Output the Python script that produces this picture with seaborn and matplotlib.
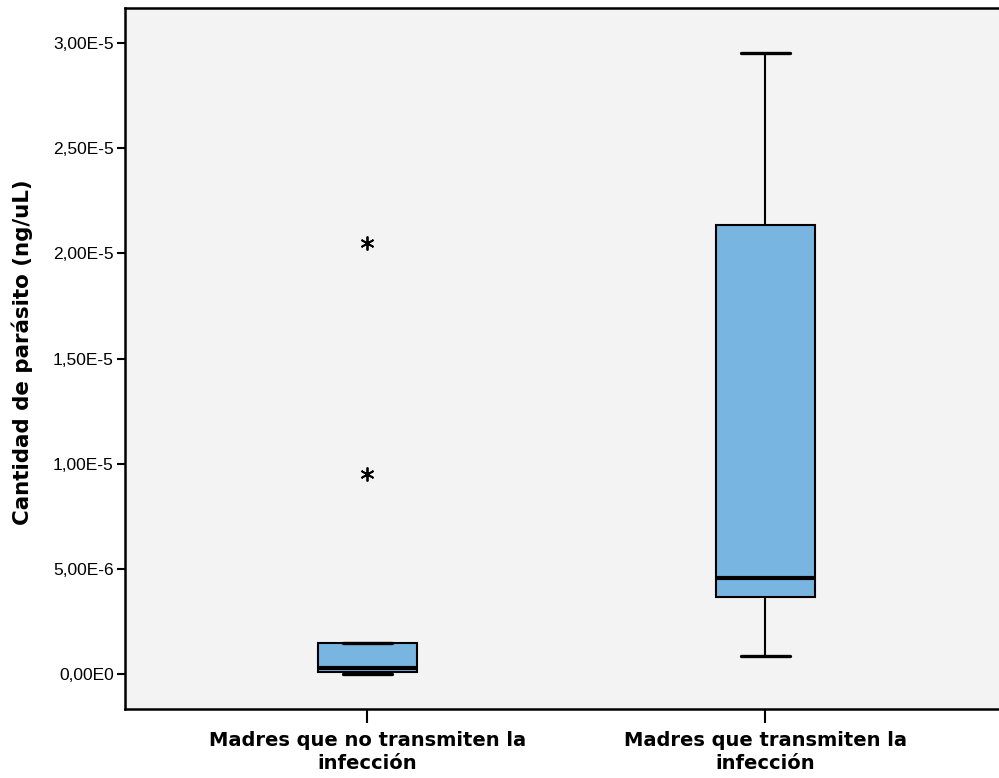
import numpy as np
import pandas as pd
import matplotlib
matplotlib.use("Agg")
import matplotlib.pyplot as plt
import seaborn as sns

# Parasite load per mother (ng/uL), grouped by transmission status
categories = ["Madres que no transmiten la\ninfección",
              "Madres que transmiten la\ninfección"]
no_transmiten = [0.0, 0.10e-6, 0.10e-6, 0.30e-6, 0.30e-6,
                 1.47e-6, 1.47e-6, 9.50e-6, 20.50e-6]
transmiten = [0.856e-6, 3.66e-6, 4.56e-6, 21.35e-6, 29.53e-6]
y_ticks = [0.0, 5e-6, 1e-5, 1.5e-5, 2e-5, 2.5e-5, 3e-5]
y_tick_labels = ["0,00E0", "5,00E-6", "1,00E-5", "1,50E-5",
                 "2,00E-5", "2,50E-5", "3,00E-5"]

df = pd.DataFrame({
    "grupo": [categories[0]] * len(no_transmiten) + [categories[1]] * len(transmiten),
    "cantidad": no_transmiten + transmiten,
})

sns.set_theme(style="white")
plt.rcParams["font.family"] = ["DejaVu Sans"]
plt.rcParams["text.color"] = "black"
plt.rcParams["axes.labelcolor"] = "black"
plt.rcParams["xtick.color"] = "black"
plt.rcParams["ytick.color"] = "black"

fig = plt.figure(figsize=(9.99, 7.78), dpi=100)
ax = fig.add_axes([0.125, 0.0887, 0.875, 0.901])
ax.set_facecolor("#f3f3f3")

sns.boxplot(
    data=df, x="grupo", y="cantidad", order=categories, ax=ax,
    width=0.25, whis=1.5, color="#79b5e1", saturation=1,
    linecolor="black", linewidth=1.5,
    boxprops=dict(edgecolor="black", linewidth=1.5),
    medianprops=dict(color="black", linewidth=3),
    whiskerprops=dict(color="black", linewidth=1.5),
    capprops=dict(color="black", linewidth=2.4),
    flierprops=dict(marker=(6, 2, 0), markersize=10, markeredgewidth=1.3,
                    markeredgecolor="black", markerfacecolor="black"),
)

ax.set_xlim(-0.6096, 1.587)
ax.set_ylim(-1.66e-6, 3.166e-5)
ax.set_yticks(y_ticks)
ax.set_yticklabels(y_tick_labels, fontfamily="Liberation Sans", fontsize=12.5, color="black")
ax.set_xticks([0, 1])
ax.set_xticklabels(categories, fontsize=14, fontweight="bold", linespacing=1.25, color="black")

ax.set_xlabel("")
ax.set_ylabel("Cantidad de parásito (ng/uL)", fontsize=15.4, fontweight="bold", color="black")
ax.yaxis.set_label_coords(-0.105, 0.5086)

for side in ["left", "bottom", "top"]:
    ax.spines[side].set_visible(True)
    ax.spines[side].set_color("black")
    ax.spines[side].set_linewidth(1.8)
ax.spines["right"].set_visible(False)

ax.tick_params(axis="y", which="major", left=True, length=6, width=1.5, color="black", pad=2)
ax.tick_params(axis="x", which="major", bottom=True, length=10, width=1.5, color="black", pad=6)

fig.savefig("out.png", dpi=100)
